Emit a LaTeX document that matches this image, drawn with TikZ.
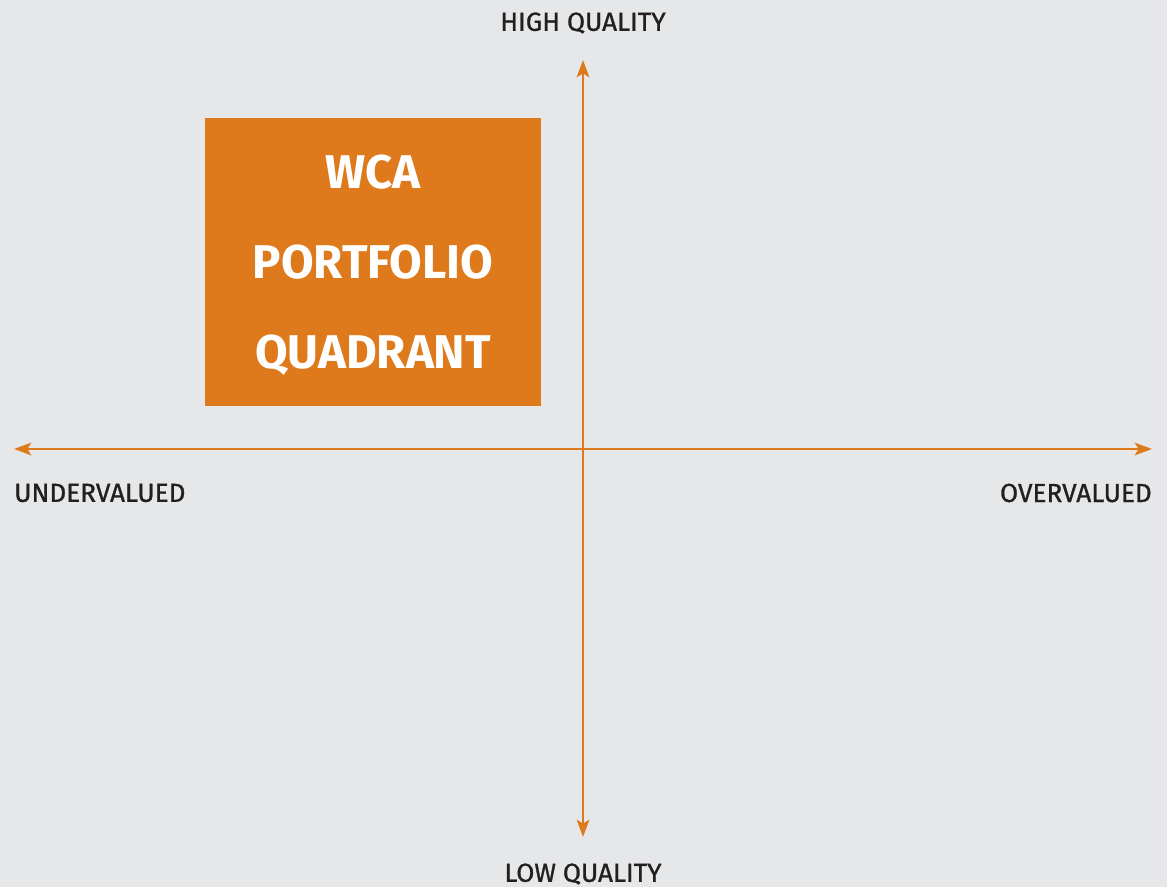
\documentclass[tikz,border=0pt]{standalone}
\usepackage{fontspec}
\setmainfont{Fira Sans}
\newfontfamily\labelfont{Fira Sans}[FakeBold = 1]
\usetikzlibrary{arrows.meta}
\definecolor{wcaOrange}{HTML}{DF7A1C}
\definecolor{wcaGrey}{HTML}{E6E7E9}
\definecolor{wcaInk}{HTML}{231F20}
\tikzstyle{axisLabel}=[inner sep = 0pt, text = wcaInk, font = \labelfont\fontsize{19.6}{22}\selectfont]
\tikzstyle{quadBox}=[shape = rectangle, fill = wcaOrange, text = white, minimum width = 252pt, minimum height = 216pt, inner sep = 0pt, align = center]

\begin{document}
\begin{tikzpicture}[x = 0.75pt, y = -0.75pt]
\tikzstyle{axisStyle}=[draw = wcaOrange, line width = 1.5pt, {Stealth[length = 13pt, width = 9.5pt, inset = 3pt]}-{Stealth[length = 13pt, width = 9.5pt, inset = 3pt]}]
\useasboundingbox[fill = wcaGrey] (0,0) rectangle (1167,887);
\node[quadBox, font = \bfseries\fontsize{35.5}{67.5}\selectfont] (box) at (373,262) {WCA\\PORTFOLIO\\\raisebox{0pt}[\height][0pt]{QUADRANT}};
\coordinate (west) at (14,449);
\coordinate (east) at (1152,449);
\coordinate (north) at (583,60);
\coordinate (south) at (583,837);
\draw[axisStyle] (west) -- (east);
\draw[axisStyle] (south) -- (north);
\node[axisLabel] (high) at (583,23) {HIGH QUALITY};
\node[axisLabel] (low) at (583,874) {LOW QUALITY};
\node[axisLabel, anchor = west] (under) at (14,493) {UNDERVALUED};
\node[axisLabel, anchor = east] (over) at (1152,493) {OVERVALUED};
%
\end{tikzpicture}
\end{document}
